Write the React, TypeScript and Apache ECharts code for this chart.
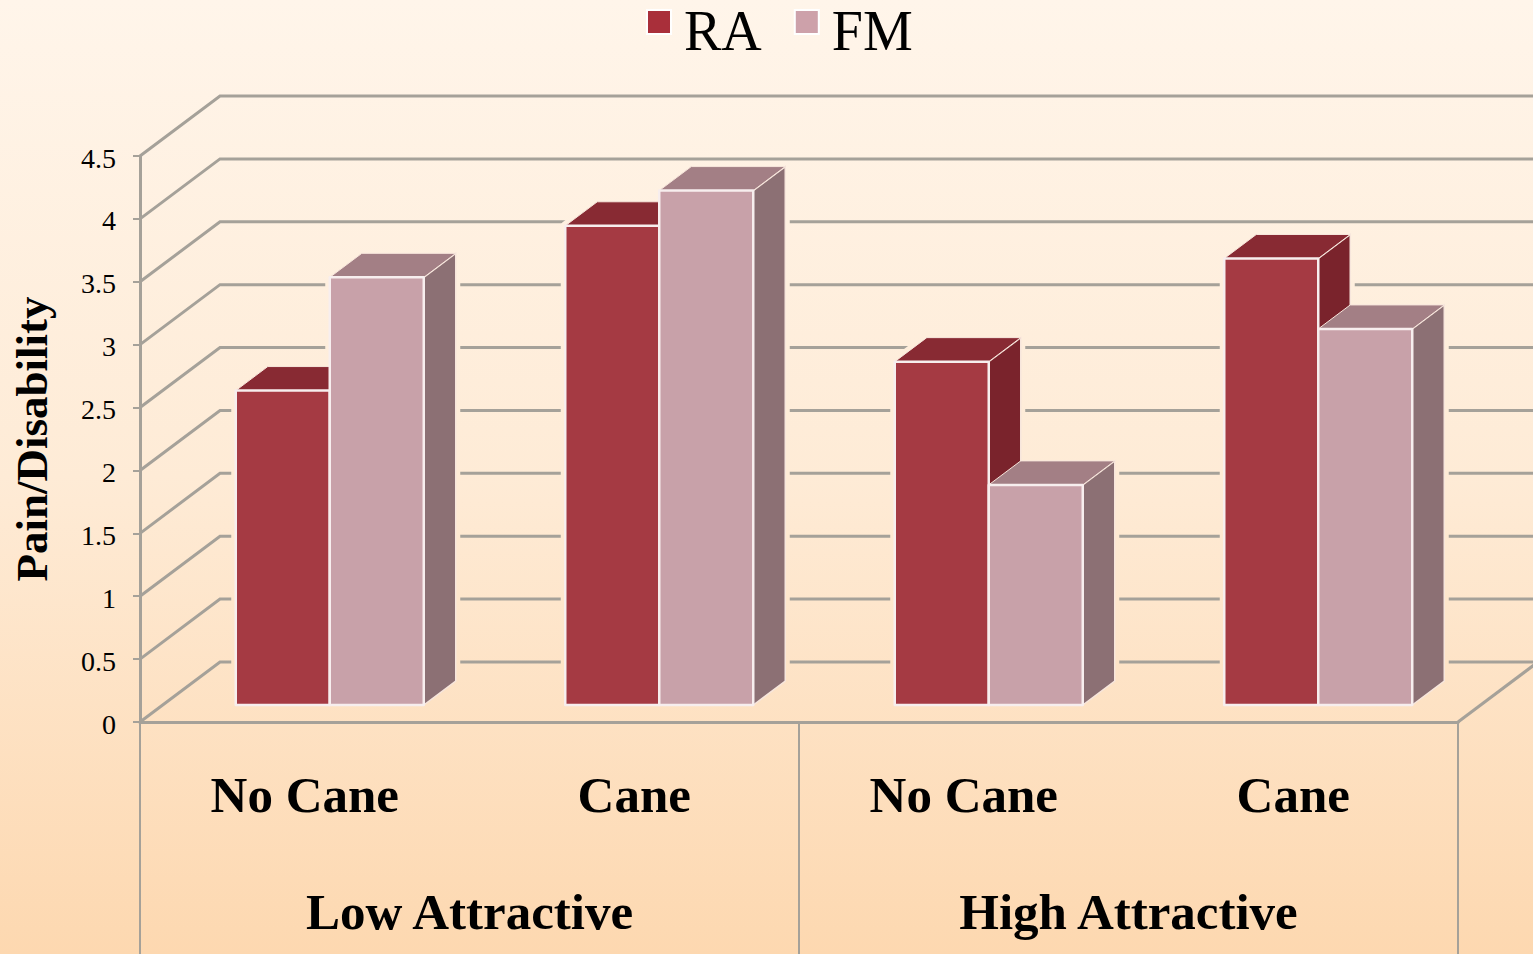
import React, { useEffect, useRef } from "react";
import * as echarts from "echarts";

const categories = ["No Cane", "Cane", "No Cane", "Cane"];
const groups = ["Low Attractive", "High Attractive"];
const raValues = [2.5, 3.81, 2.73, 3.55];
const fmValues = [3.4, 4.09, 1.75, 2.99];
const wallTicks = [0, 0.5, 1, 1.5, 2, 2.5, 3, 3.5, 4, 4.5];

const SERIF = "'Liberation Serif', 'Times New Roman', serif";
const GRID_COLOR = "#a5a199";
const BG_STOPS = [
  { offset: 0, color: "#fff5ea" },
  { offset: 0.5, color: "#feebd6" },
  { offset: 1, color: "#fdd8b0" },
];
const globalBg = { type: "linear", x: 0, y: 0, x2: 0, y2: 954, global: true, colorStops: BG_STOPS };

const WALL_DX = 80;
const WALL_DY = -60;
const BAR_DX = 32;
const BAR_DY = -24;
const FLOOR_LIFT = 17;
const BAR_W = 94;
const GROUP_SHIFT = 25;

function barGeom(api: any, which: number) {
  const idx = api.value(0);
  const [cx, yTop] = api.coord([idx, api.value(1)]);
  const [, yZero] = api.coord([idx, 0]);
  const center = cx + GROUP_SHIFT;
  const x0 = which === 0 ? center - BAR_W : center;
  const x1 = x0 + BAR_W;
  return { x0, x1, top: yTop - FLOOR_LIFT, bottom: yZero - FLOOR_LIFT };
}

function barRender(which: number, front: string, topC: string, side: string) {
  return (_p: any, api: any) => {
    const { x0, x1, top, bottom } = barGeom(api, which);
    const edge = { stroke: "#f7eeee", lineWidth: 2.5, lineJoin: "round" };
    return {
      type: "group",
      children: [
        {
          type: "polygon",
          shape: { points: [[x1, top], [x1 + BAR_DX, top + BAR_DY], [x1 + BAR_DX, bottom + BAR_DY], [x1, bottom]] },
          style: { fill: side, stroke: "#f7e6dc", lineWidth: 1.5 },
        },
        {
          type: "polygon",
          shape: { points: [[x0, top], [x0 + BAR_DX, top + BAR_DY], [x1 + BAR_DX, top + BAR_DY], [x1, top]] },
          style: { fill: topC, stroke: "#f7e6dc", lineWidth: 1 },
        },
        {
          type: "rect",
          shape: { x: x0, y: top, width: BAR_W, height: bottom - top },
          style: { fill: front, ...edge },
        },
      ],
    };
  };
}

function haloRender(which: number) {
  return (_p: any, api: any) => {
    const { x0, x1, top, bottom } = barGeom(api, which);
    return {
      type: "polygon",
      shape: {
        points: [
          [x0, bottom],
          [x0, top],
          [x0 + BAR_DX, top + BAR_DY],
          [x1 + BAR_DX, top + BAR_DY],
          [x1 + BAR_DX, bottom + BAR_DY],
          [x1, bottom],
        ],
      },
      style: { fill: globalBg, stroke: globalBg, lineWidth: 9, lineJoin: "round" },
    };
  };
}

function wallRender(params: any, api: any) {
  const v = api.value(1);
  const cs = params.coordSys;
  const [, y] = api.coord([0, v]);
  const left = cs.x;
  const right = cs.x + cs.width;
  const style = { stroke: GRID_COLOR, lineWidth: 3, fill: "none" };
  const children: any[] = [
    {
      type: "polyline",
      shape: { points: [[left, y], [left + WALL_DX, y + WALL_DY], [right + WALL_DX, y + WALL_DY]] },
      style,
    },
  ];
  if (v === 0) {
    children.push({
      type: "line",
      shape: { x1: right, y1: y, x2: right + WALL_DX, y2: y + WALL_DY },
      style,
    });
  }
  return { type: "group", children };
}

const toData = (vals: number[]) => vals.map((v, i) => [i, v]);

export default function App() {
  const ref = useRef<HTMLDivElement>(null);
  useEffect(() => {
    const chart = echarts.init(ref.current!, undefined, { renderer: "svg" });
    const axisLine = { show: true, lineStyle: { color: GRID_COLOR, width: 3 } };
    chart.setOption({
      animation: false,
      backgroundColor: { type: "linear", x: 0, y: 0, x2: 0, y2: 1, colorStops: BG_STOPS },
      legend: {
        data: ["RA", "FM"],
        left: 641,
        top: -2,
        icon: "rect",
        itemWidth: 24,
        itemHeight: 24,
        itemGap: 32,
        itemStyle: { borderColor: "#ffffff", borderWidth: 2 },
        formatter: (name: string) => `{t|${name}}`,
        textStyle: {
          fontFamily: SERIF,
          fontSize: 56,
          color: "#000",
          rich: { t: { fontFamily: SERIF, fontSize: 56, color: "#000", padding: [18, 0, 0, 8] } },
        },
      },
      grid: { left: 140, right: 75, top: 156, bottom: 232, containLabel: false, outerBoundsMode: "none" },
      xAxis: [
        {
          type: "category",
          data: categories,
          axisLine,
          axisTick: { show: false },
          axisLabel: { fontFamily: SERIF, fontSize: 51, fontWeight: "bold", color: "#000", margin: 47 },
        },
        {
          type: "category",
          data: groups,
          position: "bottom",
          axisLine: { show: false },
          axisTick: { show: true, length: 232, lineStyle: { color: GRID_COLOR, width: 2 } },
          axisLabel: { fontFamily: SERIF, fontSize: 51, fontWeight: "bold", color: "#000", margin: 164 },
        },
      ],
      yAxis: {
        type: "value",
        min: 0,
        max: 4.5,
        interval: 0.5,
        name: "Pain/Disability",
        nameLocation: "middle",
        nameRotate: 90,
        nameGap: 86,
        nameTextStyle: { fontFamily: SERIF, fontSize: 45, fontWeight: "bold", color: "#000" },
        axisLine,
        axisTick: { show: true, length: 7, lineStyle: { color: GRID_COLOR, width: 2 } },
        splitLine: { show: false },
        axisLabel: {
          fontFamily: SERIF,
          fontSize: 28,
          color: "#000",
          margin: 24,
          formatter: "{v|{value}}",
          rich: { v: { fontFamily: SERIF, fontSize: 28, color: "#000", padding: [4, 0, 0, 0] } },
        },
      },
      series: [
        { id: "walls", name: "walls", type: "custom", renderItem: wallRender, silent: true, encode: { x: 0, y: 1 }, data: wallTicks.map((v) => [0, v]) },
        { id: "haloA", name: "haloA", type: "custom", renderItem: haloRender(0), silent: true, encode: { x: 0, y: 1 }, data: toData(raValues) },
        { id: "haloB", name: "haloB", type: "custom", renderItem: haloRender(1), silent: true, encode: { x: 0, y: 1 }, data: toData(fmValues) },
        { name: "RA", type: "custom", itemStyle: { color: "#a92f3a" }, renderItem: barRender(0, "#a53a43", "#882a33", "#7a232c"), encode: { x: 0, y: 1 }, data: toData(raValues) },
        { name: "FM", type: "custom", itemStyle: { color: "#cda1aa" }, renderItem: barRender(1, "#c8a1a9", "#a37f85", "#8c7074"), encode: { x: 0, y: 1 }, data: toData(fmValues) },
      ],
    });
    return () => chart.dispose();
  }, []);
  return <div ref={ref} style={{ position: "fixed", left: 0, top: 0, width: 1533, height: 954 }} />;
}
